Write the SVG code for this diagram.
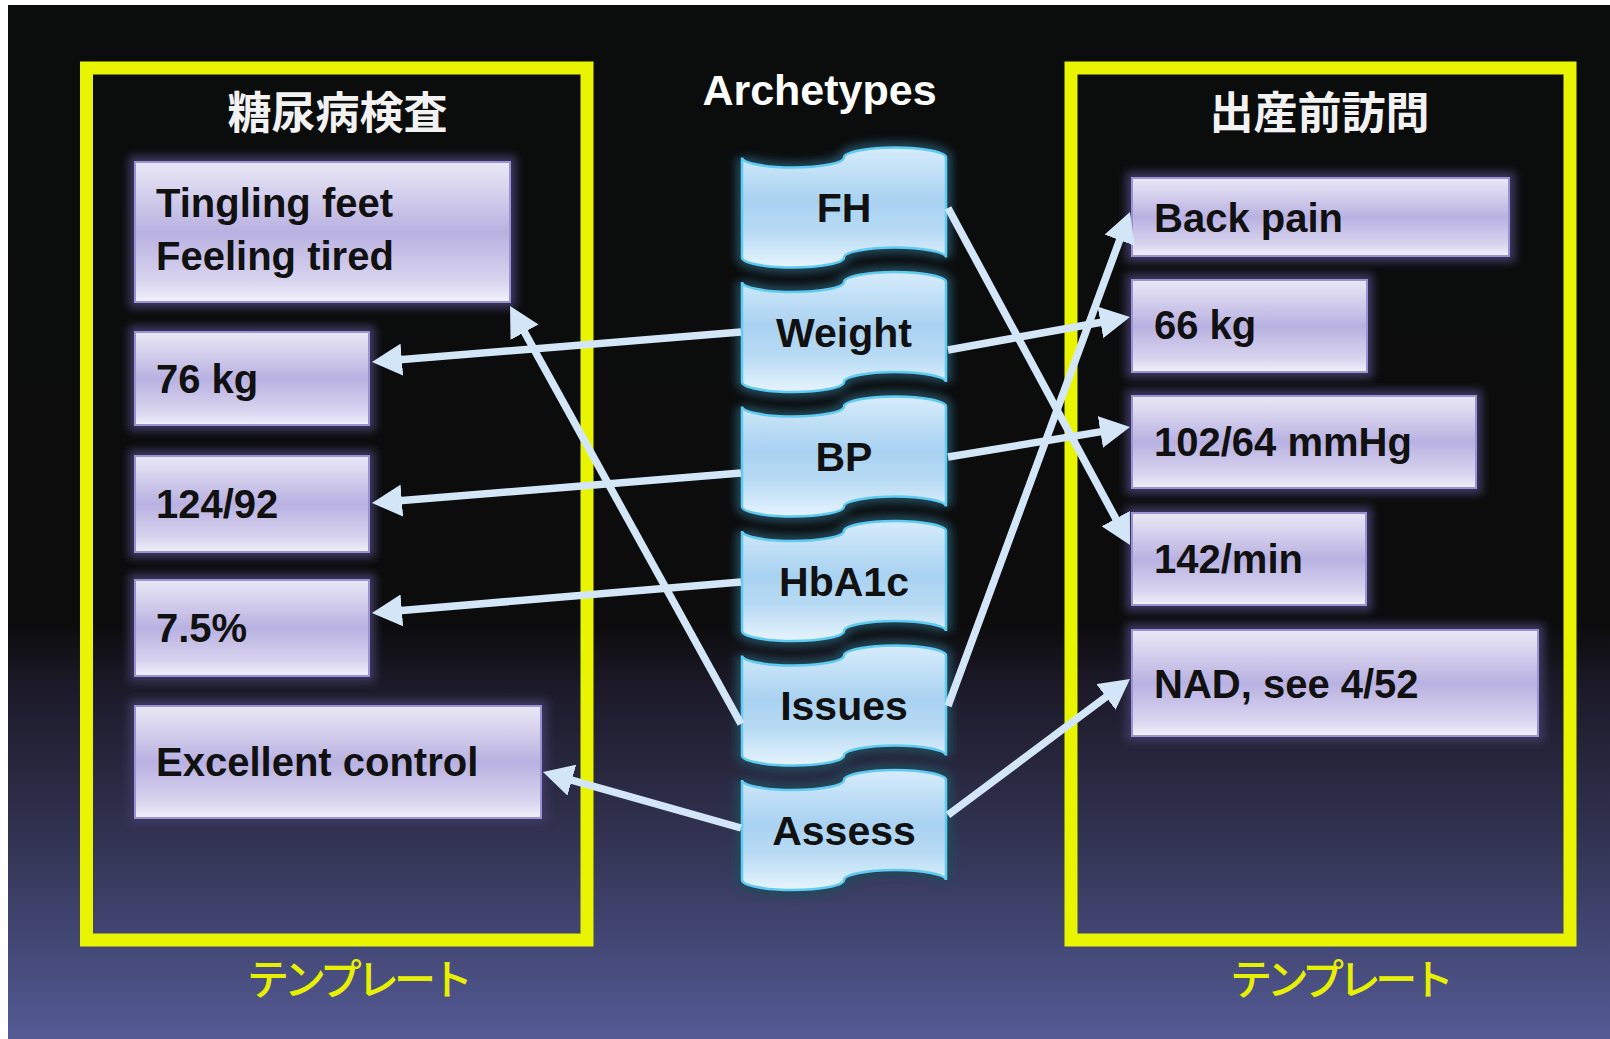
<svg xmlns="http://www.w3.org/2000/svg" width="1610" height="1039" viewBox="0 0 1610 1039">
<defs>
<linearGradient id="bg" x1="0" y1="0" x2="0" y2="1">
<stop offset="0" stop-color="#0b0c0c"/>
<stop offset="0.6" stop-color="#0c0c0d"/>
<stop offset="0.66" stop-color="#1c1a29"/>
<stop offset="0.8" stop-color="#313250"/>
<stop offset="1" stop-color="#545a95"/>
</linearGradient>
<linearGradient id="boxfill" x1="0" y1="0" x2="0" y2="1">
<stop offset="0" stop-color="#e9e7f6"/>
<stop offset="0.15" stop-color="#dcd8f0"/>
<stop offset="0.5" stop-color="#b9b1e1"/>
<stop offset="0.85" stop-color="#d8d4ef"/>
<stop offset="0.96" stop-color="#ebe9f8"/>
<stop offset="1" stop-color="#f4f3fb"/>
</linearGradient>
<linearGradient id="arcfill" x1="0" y1="0" x2="0" y2="1">
<stop offset="0" stop-color="#d6ecfb"/>
<stop offset="0.45" stop-color="#a9d2f1"/>
<stop offset="0.7" stop-color="#b8dbf4"/>
<stop offset="1" stop-color="#e6f4fd"/>
</linearGradient>
<filter id="blur4" x="-20%" y="-20%" width="140%" height="140%"><feGaussianBlur stdDeviation="4"/></filter>
<marker id="ah" viewBox="0 0 30 32" refX="15" refY="16" markerWidth="30" markerHeight="32" markerUnits="userSpaceOnUse" orient="auto">
<path d="M0,0 L30,16 L0,32 Z" fill="#d3e6f8"/>
</marker>
<style>
.frame{fill:none;stroke:#e9f500;stroke-width:13}
.box{fill:url(#boxfill);stroke:#9a92d2;stroke-width:2}
.halo{fill:#3d3860;filter:url(#blur4)}
.arc{fill:url(#arcfill);stroke:#5fcaf2;stroke-width:2.5}
.archalo{fill:#24495a;stroke:#24495a;stroke-width:12;filter:url(#blur4)}
.t{font-family:"Liberation Sans",Arial,sans-serif;font-weight:bold;font-size:40px;fill:#111}
.c{text-anchor:middle;font-size:41px}
.title{font-family:"Noto Sans CJK JP",sans-serif;font-weight:bold;font-size:44px;fill:#f2f2f2;text-anchor:middle}
.tmpl{font-family:"Noto Sans CJK JP",sans-serif;font-weight:500;font-size:42px;fill:#e6f000;text-anchor:middle}
.arch{font-family:"Liberation Sans",Arial,sans-serif;font-weight:bold;font-size:43px;fill:#ffffff;text-anchor:middle}
.conn{stroke:#d3e6f8;stroke-width:7.5;fill:none;marker-end:url(#ah)}
</style>
</defs>
<rect x="0" y="0" width="1610" height="1039" fill="#ffffff"/>
<rect x="8" y="5" width="1602" height="1034" fill="url(#bg)"/>

<g id="template-left">
<rect class="frame" x="86.5" y="68" width="500.5" height="872"/>
<text class="title" x="337.5" y="129">糖尿病検査</text>
<text class="tmpl" x="360" y="995" textLength="226">テンプレート</text>
</g>
<g id="template-right">
<rect class="frame" x="1071" y="68" width="499" height="872"/>
<text class="title" x="1319.5" y="129">出産前訪問</text>
<text class="tmpl" x="1342" y="995" textLength="224">テンプレート</text>
</g>
<text class="arch" x="819.5" y="105">Archetypes</text>

<g id="box-symptoms">
<rect class="halo" x="129" y="156" width="387" height="152"/>
<rect class="box" x="135" y="162" width="375" height="140"/>
<text class="t" x="156" y="217">Tingling feet</text>
<text class="t" x="156" y="270">Feeling tired</text>
</g>
<g id="box-76kg">
<rect class="halo" x="129" y="326" width="246" height="105"/>
<rect class="box" x="135" y="332" width="234" height="93"/>
<text class="t" x="156" y="393">76 kg</text>
</g>
<g id="box-124-92">
<rect class="halo" x="129" y="450" width="246" height="108"/>
<rect class="box" x="135" y="456" width="234" height="96"/>
<text class="t" x="156" y="518">124/92</text>
</g>
<g id="box-7-5">
<rect class="halo" x="129" y="574" width="246" height="108"/>
<rect class="box" x="135" y="580" width="234" height="96"/>
<text class="t" x="156" y="642">7.5%</text>
</g>
<g id="box-excellent">
<rect class="halo" x="129" y="700" width="418" height="124"/>
<rect class="box" x="135" y="706" width="406" height="112"/>
<text class="t" x="156" y="776">Excellent control</text>
</g>

<g id="box-backpain">
<rect class="halo" x="1126" y="172" width="389" height="90"/>
<rect class="box" x="1132" y="178" width="377" height="78"/>
<text class="t" x="1154" y="232">Back pain</text>
</g>
<g id="box-66kg">
<rect class="halo" x="1126" y="274" width="247" height="104"/>
<rect class="box" x="1132" y="280" width="235" height="92"/>
<text class="t" x="1154" y="339">66 kg</text>
</g>
<g id="box-102-64">
<rect class="halo" x="1126" y="390" width="356" height="104"/>
<rect class="box" x="1132" y="396" width="344" height="92"/>
<text class="t" x="1154" y="456">102/64 mmHg</text>
</g>
<g id="box-142">
<rect class="halo" x="1126" y="507" width="246" height="104"/>
<rect class="box" x="1132" y="513" width="234" height="92"/>
<text class="t" x="1154" y="573">142/min</text>
</g>
<g id="box-nad">
<rect class="halo" x="1126" y="624" width="418" height="118"/>
<rect class="box" x="1132" y="630" width="406" height="106"/>
<text class="t" x="1154" y="698">NAD, see 4/52</text>
</g>

<g id="arch-fh">
<path class="archalo" d="M742,157.5 A51,10 0 0,0 844,157.5 A51,10 0 0,1 946,157.5 L946,257.5 A51,10 0 0,0 844,257.5 A51,10 0 0,1 742,257.5 Z"/>
<path class="arc" d="M742,157.5 A51,10 0 0,0 844,157.5 A51,10 0 0,1 946,157.5 L946,257.5 A51,10 0 0,0 844,257.5 A51,10 0 0,1 742,257.5 Z"/>
<text class="t c" x="844" y="222">FH</text>
</g>
<g id="arch-weight">
<path class="archalo" d="M742,282 A51,10 0 0,0 844,282 A51,10 0 0,1 946,282 L946,382 A51,10 0 0,0 844,382 A51,10 0 0,1 742,382 Z"/>
<path class="arc" d="M742,282 A51,10 0 0,0 844,282 A51,10 0 0,1 946,282 L946,382 A51,10 0 0,0 844,382 A51,10 0 0,1 742,382 Z"/>
<text class="t c" x="844" y="347">Weight</text>
</g>
<g id="arch-bp">
<path class="archalo" d="M742,406.5 A51,10 0 0,0 844,406.5 A51,10 0 0,1 946,406.5 L946,506.5 A51,10 0 0,0 844,506.5 A51,10 0 0,1 742,506.5 Z"/>
<path class="arc" d="M742,406.5 A51,10 0 0,0 844,406.5 A51,10 0 0,1 946,406.5 L946,506.5 A51,10 0 0,0 844,506.5 A51,10 0 0,1 742,506.5 Z"/>
<text class="t c" x="844" y="471">BP</text>
</g>
<g id="arch-hba1c">
<path class="archalo" d="M742,531 A51,10 0 0,0 844,531 A51,10 0 0,1 946,531 L946,631 A51,10 0 0,0 844,631 A51,10 0 0,1 742,631 Z"/>
<path class="arc" d="M742,531 A51,10 0 0,0 844,531 A51,10 0 0,1 946,531 L946,631 A51,10 0 0,0 844,631 A51,10 0 0,1 742,631 Z"/>
<text class="t c" x="844" y="595.5">HbA1c</text>
</g>
<g id="arch-issues">
<path class="archalo" d="M742,655.5 A51,10 0 0,0 844,655.5 A51,10 0 0,1 946,655.5 L946,755.5 A51,10 0 0,0 844,755.5 A51,10 0 0,1 742,755.5 Z"/>
<path class="arc" d="M742,655.5 A51,10 0 0,0 844,655.5 A51,10 0 0,1 946,655.5 L946,755.5 A51,10 0 0,0 844,755.5 A51,10 0 0,1 742,755.5 Z"/>
<text class="t c" x="844" y="720">Issues</text>
</g>
<g id="arch-assess">
<path class="archalo" d="M742,780 A51,10 0 0,0 844,780 A51,10 0 0,1 946,780 L946,880 A51,10 0 0,0 844,880 A51,10 0 0,1 742,880 Z"/>
<path class="arc" d="M742,780 A51,10 0 0,0 844,780 A51,10 0 0,1 946,780 L946,880 A51,10 0 0,0 844,880 A51,10 0 0,1 742,880 Z"/>
<text class="t c" x="844" y="844.5">Assess</text>
</g>

<g id="connectors">
<line class="conn" x1="741" y1="332" x2="386.9" y2="360.8"/>
<line class="conn" x1="741" y1="473" x2="386.9" y2="501.8"/>
<line class="conn" x1="741" y1="582" x2="386.9" y2="611.7"/>
<line class="conn" x1="741" y1="828" x2="557.4" y2="776.1"/>
<line class="conn" x1="741" y1="724" x2="517.3" y2="319.1"/>
<line class="conn" x1="948" y1="208" x2="1122.9" y2="531.8"/>
<line class="conn" x1="948" y1="350" x2="1115.2" y2="319.7"/>
<line class="conn" x1="948" y1="457" x2="1115.2" y2="429.4"/>
<line class="conn" x1="948" y1="706" x2="1124.8" y2="226.1"/>
<line class="conn" x1="948" y1="815" x2="1118.0" y2="688.0"/>
</g>
</svg>
